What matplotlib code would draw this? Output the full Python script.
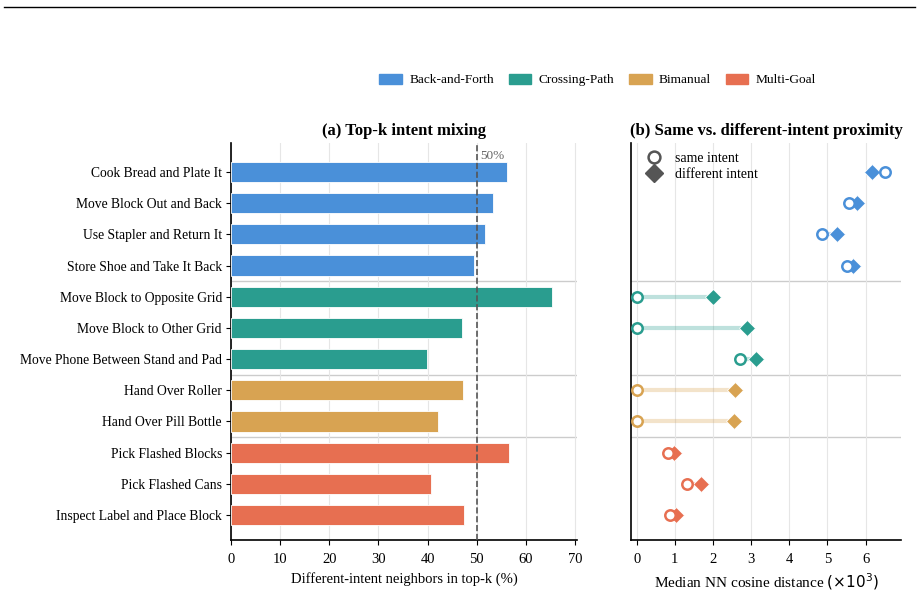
import matplotlib
matplotlib.use('Agg')
import matplotlib.pyplot as plt
from matplotlib.lines import Line2D
from matplotlib.patches import Patch

plt.rcParams['font.family'] = ['Liberation Serif', 'DejaVu Serif']
plt.rcParams['mathtext.fontset'] = 'dejavusans'

# ---------------------------
# data
# ---------------------------
tasks = ['Cook Bread and Plate It', 'Move Block Out and Back', 'Use Stapler and Return It',
         'Store Shoe and Take It Back', 'Move Block to Opposite Grid', 'Move Block to Other Grid',
         'Move Phone Between Stand and Pad', 'Hand Over Roller', 'Hand Over Pill Bottle',
         'Pick Flashed Blocks', 'Pick Flashed Cans', 'Inspect Label and Place Block']
groups = ['Back-and-Forth'] * 4 + ['Crossing-Path'] * 3 + ['Bimanual'] * 2 + ['Multi-Goal'] * 3
mix_pct = [56.2, 53.4, 51.7, 49.5, 65.4, 47.0, 39.9, 47.2, 42.2, 56.6, 40.7, 47.5]
same_dist = [6.51, 5.57, 4.87, 5.52, 0.0, 0.0, 2.70, 0.0, 0.0, 0.83, 1.32, 0.88]
diff_dist = [6.18, 5.78, 5.25, 5.67, 2.01, 2.88, 3.14, 2.58, 2.54, 0.98, 1.68, 1.04]

group_names = ['Back-and-Forth', 'Crossing-Path', 'Bimanual', 'Multi-Goal']
group_colors = {'Back-and-Forth': '#4a90d9', 'Crossing-Path': '#2a9d8f',
                'Bimanual': '#d8a352', 'Multi-Goal': '#e76f51'}

colors = [group_colors[g] for g in groups]
ypos = list(range(len(tasks)))
separators = [i - 0.5 for i in range(1, len(groups)) if groups[i] != groups[i - 1]]

fig = plt.figure(figsize=(9.21, 5.97), dpi=100)
ax1 = fig.add_axes([0.2508, 0.0955, 0.3757, 0.665])
ax2 = fig.add_axes([0.6851, 0.0955, 0.2932, 0.665])

# ---------------------------
# (a) bars
# ---------------------------
ax1.barh(ypos, mix_pct, height=0.65, color=colors, edgecolor='white', linewidth=0.6, zorder=3)
ax1.axvline(50, color='#555555', ls='--', lw=1.2, zorder=4)
ax1.text(50.7, -0.5, '50%', color='#666666', fontsize=9.5, va='center', ha='left')
ax1.set_xlim(0, 70.4)
ax1.set_xticks(range(0, 71, 10))
ax1.set_ylim(11.8, -0.93)
ax1.set_yticks(ypos)
ax1.set_yticklabels(tasks, fontsize=9.8)
ax1.tick_params(axis='y', length=3.5, pad=3)
ax1.tick_params(axis='x', labelsize=10.5, pad=6)
ax1.set_xlabel('Different-intent neighbors in top-k (%)', fontsize=10.5, labelpad=4)
ax1.set_title('(a) Top-k intent mixing', fontsize=12, fontweight='bold', pad=6)
ax1.grid(axis='x', color='#e6e6e6', lw=0.8, zorder=0)

# ---------------------------
# (b) dumbbell
# ---------------------------
for y, s, d, c in zip(ypos, same_dist, diff_dist, colors):
    ax2.plot([s, d], [y, y], color=c, alpha=0.3, lw=3, zorder=2, solid_capstyle='butt')
    ax2.plot(d, y, marker='D', ms=8, color=c, mec='white', mew=0.6, ls='none', zorder=4)
    ax2.plot(s, y, marker='o', ms=7.5, mfc='white', mec=c, mew=1.8, ls='none', zorder=5)
ax2.set_xlim(-0.15, 6.93)
ax2.set_xticks(range(0, 7))
ax2.set_ylim(11.8, -0.93)
ax2.set_yticks([])
ax2.tick_params(axis='x', labelsize=10.5, pad=6)
ax2.set_xlabel(r'Median NN cosine distance $(\times 10^3)$', fontsize=11, labelpad=4)
ax2.set_title('(b) Same vs. different-intent proximity', fontsize=12, fontweight='bold', pad=6)
ax2.grid(axis='x', color='#e6e6e6', lw=0.8, zorder=0)

leg_handles = [Line2D([], [], marker='o', ls='none', ms=8.5, mfc='white', mec='#555555', mew=1.8,
                      label='same intent'),
               Line2D([], [], marker='D', ls='none', ms=9, color='#555555', label='different intent')]
ax2.legend(handles=leg_handles, loc='upper left', frameon=False, fontsize=10,
           handletextpad=0.5, labelspacing=0.2, borderaxespad=0.25)

for ax in (ax1, ax2):
    for sp in ('top', 'right'):
        ax.spines[sp].set_visible(False)
    ax.spines['left'].set_linewidth(1.2)
    ax.spines['bottom'].set_linewidth(1.2)
    for y in separators:
        ax.axhline(y, color='#cccccc', lw=1.0, zorder=1)

# legend on top
patches = [Patch(color=group_colors[g], label=g) for g in group_names]
fig.legend(handles=patches, loc='center', bbox_to_anchor=(0.649, 0.866), ncol=4, frameon=False,
           fontsize=9.6, handlelength=1.7, handleheight=0.8, handletextpad=0.55, columnspacing=1.1)

# rule at the top of the page
fig.add_artist(Line2D([0.004, 0.994], [0.988, 0.988], color='black', lw=1.0,
                      transform=fig.transFigure))

fig.savefig('out.png', dpi=100)
